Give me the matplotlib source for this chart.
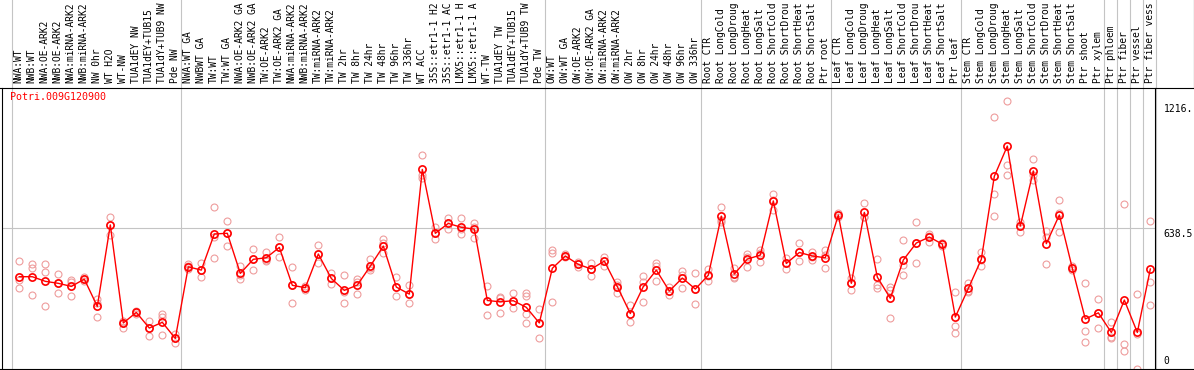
import matplotlib
matplotlib.use("Agg")
import matplotlib.pyplot as plt
from matplotlib.lines import Line2D

# --- data ---
gene = "Potri.009G120900"

samples = [
    "NWA:WT", "NWB:WT", "NWA:OE-ARK2", "NWB:OE-ARK2", "NWA:miRNA-ARK2",
    "NWB:miRNA-ARK2", "NW 0hr", "WT H2O", "WT-NW", "TUA1dEY NW",
    "TUA1dEY+TUB15 NW", "TUA1dY+TUB9 NW", "Pde NW",
    "NWA:WT GA", "NWBWT GA", "TW:WT", "TW:WT GA", "NWA:OE-ARK2 GA",
    "NWB:OE-ARK2 GA", "TW:OE-ARK2", "TW:OE-ARK2 GA", "NWA:miRNA-ARK2 GA",
    "NWB:miRNA-ARK2 GA", "TW:miRNA-ARK2", "TW:miRNA-ARK2 GA", "TW 2hr",
    "TW 8hr", "TW 24hr", "TW 48hr", "TW 96hr", "TW 336hr", "WT ACC",
    "35S::etr1-1 H2O", "35S::etr1-1 ACC", "LMX5::etr1-1 H2O",
    "LMX5::etr1-1 ACC", "WT-TW", "TUA1dEY TW", "TUA1dEY+TUB15 TW",
    "TUA1dY+TUB9 TW", "Pde TW",
    "OW:WT", "OW:WT GA", "OW:OE-ARK2", "OW:OE-ARK2 GA", "OW:miRNA-ARK2",
    "OW:miRNA-ARK2 GA", "OW 2hr", "OW 8hr", "OW 24hr", "OW 48hr", "OW 96hr",
    "OW 336hr",
    "Root CTR", "Root LongCold", "Root LongDrought", "Root LongHeat",
    "Root LongSalt", "Root ShortCold", "Root ShortDrought", "Root ShortHeat",
    "Root ShortSalt", "Ptr root",
    "Leaf CTR", "Leaf LongCold", "Leaf LongDrought", "Leaf LongHeat",
    "Leaf LongSalt", "Leaf ShortCold", "Leaf ShortDrought", "Leaf ShortHeat",
    "Leaf ShortSalt", "Ptr leaf",
    "Stem CTR", "Stem LongCold", "Stem LongDrought", "Stem LongHeat",
    "Stem LongSalt", "Stem ShortCold", "Stem ShortDrought", "Stem ShortHeat",
    "Stem ShortSalt", "Ptr shoot", "Ptr xylem",
    "Ptr phloem", "Ptr fiber", "Ptr vessel", "Ptr fiber vessel",
]

group_sizes = [13, 28, 12, 10, 10, 11, 1, 1, 1, 1]

means = [
    418, 418, 397, 388, 374, 407, 283, 653, 208, 256, 185, 211, 138,
    463, 448, 612, 615, 433, 497, 504, 551, 379, 368, 521, 410, 356, 380,
    466, 557, 371, 339, 905, 615, 660, 642, 634, 310, 304, 309, 279, 208,
    456, 512, 474, 453, 489, 373, 251, 373, 448, 353, 412, 362,
    425, 693, 430, 498, 516, 762, 478, 528, 512, 504,
    698, 388, 710, 416, 320, 494, 571, 598, 566, 235,
    365, 497, 874, 1011, 648, 898, 568, 698, 456, 226, 254,
    165, 312, 165, 453,
]

replicates = [
    [489, 403, 365], [475, 456, 333], [475, 438, 285], [430, 388, 342],
    [403, 395, 332], [418, 407, 398], [315, 300, 236], [687, 653, 607],
    [218, 208, 186], [261, 256, 251], [215, 185, 150], [247, 236, 153],
    [158, 138, 118],
    [475, 466, 451], [481, 448, 415], [733, 600, 501], [671, 615, 557],
    [466, 425, 406], [542, 498, 448], [528, 494, 489], [597, 551, 506],
    [460, 379, 297], [376, 368, 357], [562, 521, 478], [436, 410, 383],
    [424, 350, 297], [406, 395, 339], [497, 456, 448], [587, 569, 524],
    [418, 371, 330], [380, 339, 297], [970, 880, 864], [642, 615, 589],
    [686, 660, 633], [683, 633, 610], [663, 645, 592], [376, 310, 244],
    [327, 320, 254], [342, 309, 274], [342, 330, 251, 206], [270, 208, 138],
    [539, 527, 304], [521, 512, 506], [486, 474, 463], [481, 453, 421],
    [509, 489, 466], [395, 380, 342], [289, 251, 214], [421, 395, 304],
    [481, 466, 400], [373, 353, 335], [444, 428, 365], [433, 362, 292],
    [454, 421, 400], [736, 675, 668], [456, 418, 410], [521, 509, 463],
    [539, 527, 483], [793, 766, 721], [501, 481, 453], [569, 528, 489],
    [531, 509, 494], [539, 516, 456],
    [706, 698, 690], [413, 391, 357], [751, 690, 690], [498, 380, 368],
    [373, 357, 229], [584, 471, 425], [665, 571, 480], [612, 605, 577],
    [569, 569, 559], [348, 194, 161],
    [391, 354, 350], [530, 494, 466], [1141, 792, 693], [1216, 923, 878],
    [668, 653, 622], [952, 880, 857], [627, 600, 475], [766, 706, 619],
    [468, 456, 448], [391, 173, 121], [317, 254, 183],
    [211, 145, 138], [746, 111, 80], [339, 157, 0], [671, 392, 289],
]

right_labels = ["1216.", "638.5", "0"]

# the header only has room for 14 characters per sample name
max_chars = 14

# --- figure ---
W, H = 1194, 370
fig = plt.figure(figsize=(W / 100, H / 100), dpi=100)
fig.patch.set_facecolor("white")

top_px, bot_px = 87.5, 368.8
left_px, right_px = 1.5, 1155.4
ax = fig.add_axes([left_px / W, (H - bot_px) / H,
                   (right_px - left_px) / W, (bot_px - top_px) / H])

data_max = max(max(r) for r in replicates)
ymax = data_max * 1.05
n = len(samples)
ax.set_xlim(-1.37, n - 1 + 0.39)
ax.set_ylim(0, ymax)
ax.set_xticks([])
ax.set_yticks([])
for side in ["top", "bottom"]:
    ax.spines[side].set_visible(False)
for side in ["left", "right"]:
    ax.spines[side].set_color("black")
    ax.spines[side].set_linewidth(0.8)
    ax.spines[side].set_zorder(5)

grid_col = "#c4c4c4"
head_frac = 1 + top_px / (bot_px - top_px)

# group separators
pos = -1
ax.axvline(pos + 0.4, ymin=0, ymax=head_frac, clip_on=False,
           color=grid_col, lw=0.8, zorder=0)
for g in group_sizes:
    pos += g
    ax.axvline(pos + 0.4, ymin=0, ymax=head_frac, clip_on=False,
               color=grid_col, lw=0.8, zorder=0)

ax.axhline(ymax / 2, color=grid_col, lw=0.8, zorder=0)

# replicates
rx, ry = [], []
for i, r in enumerate(replicates):
    rx += [i] * len(r)
    ry += r
ax.plot(rx, ry, "o", mfc="none", mec="#ee9c9c", ms=5, mew=0.8, zorder=2)

# mean line
ax.plot(range(n), means, "-o", color="red", mfc="none", mec="red",
        ms=5.2, mew=1.2, lw=1.0, zorder=3)

# header lines
fig.add_artist(Line2D([0, 1], [1 - top_px / H] * 2, color="black", lw=0.8))
fig.add_artist(Line2D([0, 1], [1 - bot_px / H] * 2, color="black", lw=0.8))
fig.add_artist(Line2D([1193.5 / W] * 2, [1 - top_px / H, 1], color="black", lw=0.8))

mono = "DejaVu Sans Mono"
for i, s in enumerate(samples):
    ax.annotate(s[:max_chars].rstrip(), xy=(i, 1), xycoords=("data", "axes fraction"),
                xytext=(-0.5, 4.5), textcoords="offset pixels",
                rotation=90, ha="center", va="bottom",
                fontsize=6.9, family=mono, annotation_clip=False)

ax.text(8.5 / (right_px - left_px), 1 - 10 / (bot_px - top_px), gene,
        transform=ax.transAxes, color="red", fontsize=7.2, family=mono,
        ha="left", va="center")

# right axis labels
ax.annotate(right_labels[0], xy=(1, data_max), xycoords=("axes fraction", "data"),
            xytext=(8, -3), textcoords="offset pixels", ha="left", va="top",
            fontsize=7, family=mono, annotation_clip=False)
ax.annotate(right_labels[1], xy=(1, ymax / 2), xycoords=("axes fraction", "data"),
            xytext=(8, -1), textcoords="offset pixels", ha="left", va="top",
            fontsize=7, family=mono, annotation_clip=False)
ax.annotate(right_labels[2], xy=(1, 0), xycoords=("axes fraction", "data"),
            xytext=(8, 3), textcoords="offset pixels", ha="left", va="bottom",
            fontsize=7, family=mono, annotation_clip=False)

fig.savefig("out.png", dpi=100)
